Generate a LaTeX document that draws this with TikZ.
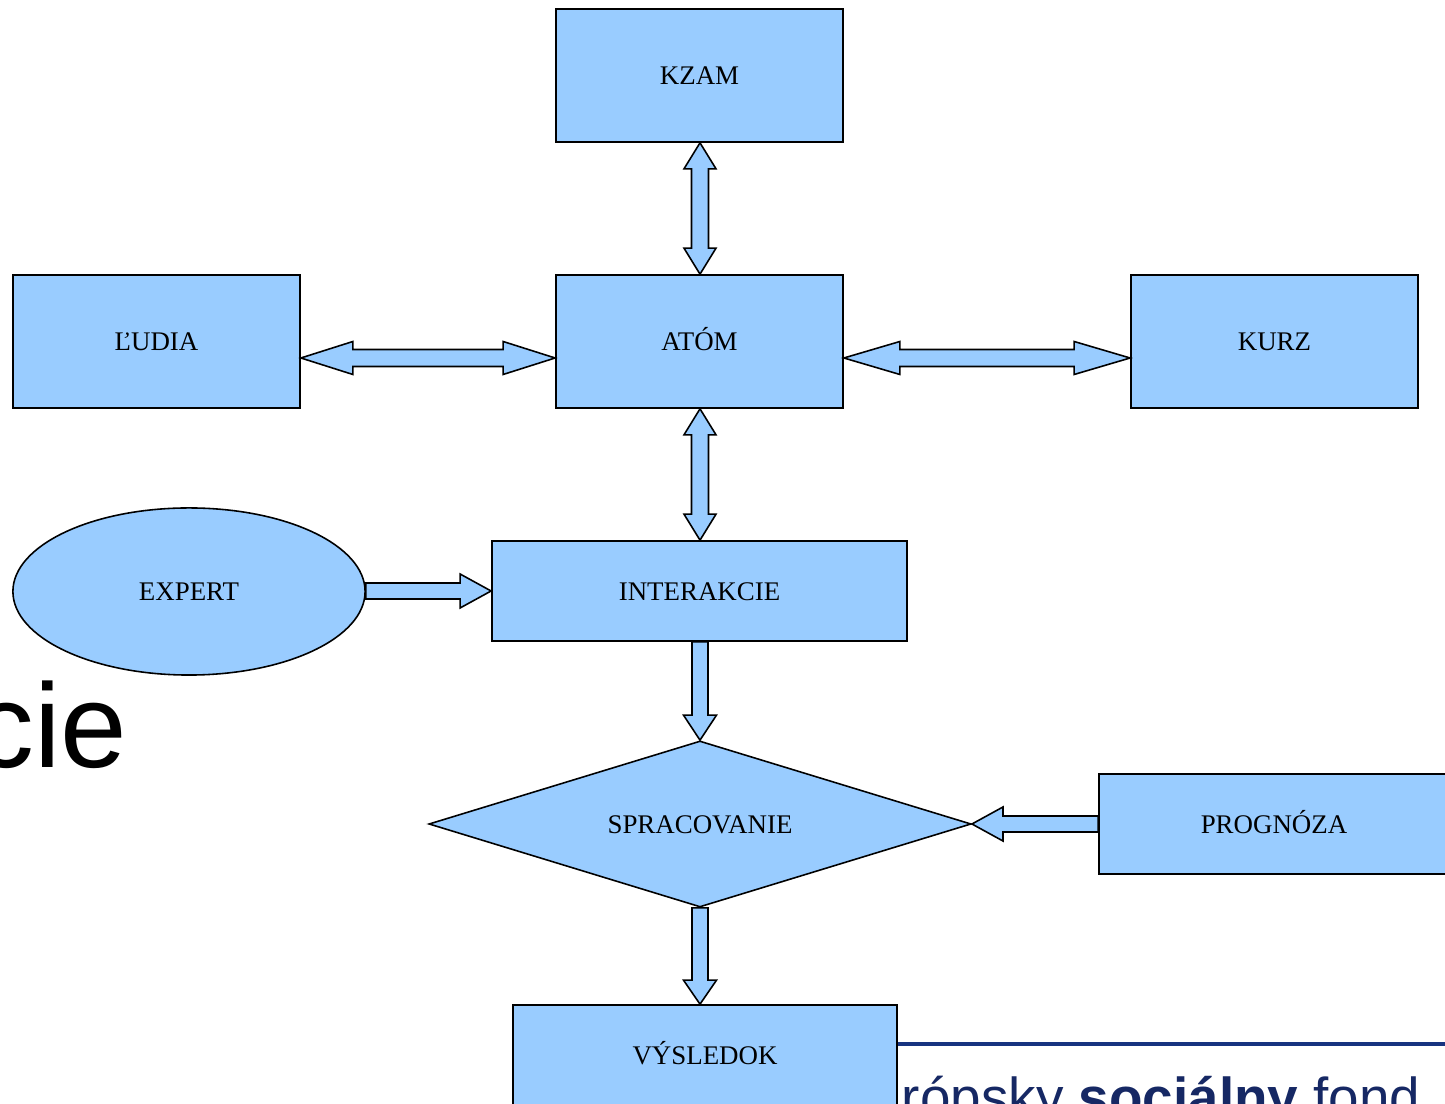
\documentclass[tikz,border=0pt]{standalone}
\usepackage{fontspec}
\setmainfont{Liberation Serif}
\newfontfamily\logofont{Liberation Sans}
\usetikzlibrary{calc,shapes.geometric}
\definecolor{boxblue}{HTML}{99CCFF}
\definecolor{logoline}{RGB}{24,52,128}
\definecolor{logotext}{RGB}{22,40,100}
\tikzset{
  boxstyle/.style={draw=black, line width=0.45pt, fill=boxblue, inner sep=0pt,
    font=\fontsize{7.65}{9}\selectfont, text height=0.185cm, text depth=0cm},
  rectbox/.style={boxstyle, rectangle},
  ellbox/.style={boxstyle, ellipse},
  diabox/.style={boxstyle, diamond, aspect=3.3},
  blockarrow/.style={draw=black, line width=0.45pt, fill=boxblue, line join=miter},
}
% double-headed horizontal block arrow: left tip, right tip, head length
\newcommand\HArrowTwo[3]{%
\draw[blockarrow] (#1) -- ($(#1)+(#3,-16.5)$) -- ($(#1)+(#3,-8.5)$) -- ($(#2)+(-#3,-8.5)$) -- ($(#2)+(-#3,-16.5)$) -- (#2) -- ($(#2)+(-#3,16.5)$) -- ($(#2)+(-#3,8.5)$) -- ($(#1)+(#3,8.5)$) -- ($(#1)+(#3,16.5)$) -- cycle;}
% double-headed vertical block arrow: top tip, bottom tip, head length
\newcommand\VArrowTwo[3]{%
\draw[blockarrow] (#1) -- ($(#1)+(16,#3)$) -- ($(#1)+(8.5,#3)$) -- ($(#2)+(8.5,-#3)$) -- ($(#2)+(16,-#3)$) -- (#2) -- ($(#2)+(-16,-#3)$) -- ($(#2)+(-8.5,-#3)$) -- ($(#1)+(-8.5,#3)$) -- ($(#1)+(-16,#3)$) -- cycle;}
% single block arrows: start, tip, head length
\newcommand\RArrowOne[3]{%
\draw[blockarrow] ($(#1)+(0,-8)$) -- ($(#2)+(-#3,-8)$) -- ($(#2)+(-#3,-17)$) -- (#2) -- ($(#2)+(-#3,17)$) -- ($(#2)+(-#3,8)$) -- ($(#1)+(0,8)$) -- cycle;}
\newcommand\LArrowOne[3]{%
\draw[blockarrow] ($(#1)+(0,-8)$) -- ($(#2)+(#3,-8)$) -- ($(#2)+(#3,-17)$) -- (#2) -- ($(#2)+(#3,17)$) -- ($(#2)+(#3,8)$) -- ($(#1)+(0,8)$) -- cycle;}
\newcommand\DArrowOne[3]{%
\draw[blockarrow] ($(#1)+(-8,0)$) -- ($(#2)+(-8,-#3)$) -- ($(#2)+(-16.5,-#3)$) -- (#2) -- ($(#2)+(16.5,-#3)$) -- ($(#2)+(8,-#3)$) -- ($(#1)+(8,0)$) -- cycle;}
\begin{document}
\begin{tikzpicture}[x=0.01cm, y=-0.01cm]
\useasboundingbox (0,0) rectangle (1445,1104);
\begin{scope}
\clip (0,0) rectangle (1445,1104);
% background slide remnants
\node[anchor=base east, inner sep=0pt, font=\logofont\fontsize{34}{40}\selectfont] (cie) at (128,768) {cie};
\draw[logoline, line width=1.3pt] (897,1044) -- (1445,1044);
\node[anchor=base east, inner sep=0pt, text=logotext, font=\logofont\fontsize{15.6}{18}\selectfont] (logo) at (1421,1117) {rópsky \textbf{sociálny} fond};
% nodes
\node[rectbox, minimum width=2.87cm, minimum height=1.33cm] (kzam) at (699.5,75.5) {KZAM};
\node[rectbox, minimum width=2.87cm, minimum height=1.33cm] (ludia) at (156.5,341.5) {ĽUDIA};
\node[rectbox, minimum width=2.87cm, minimum height=1.33cm] (atom) at (699.5,341.5) {ATÓM};
\node[rectbox, minimum width=2.87cm, minimum height=1.33cm] (kurz) at (1274.5,341.5) {KURZ};
\node[ellbox, minimum width=3.52cm, minimum height=1.67cm] (expert) at (189,591.5) {EXPERT};
\node[rectbox, minimum width=4.15cm, minimum height=1.0cm] (inter) at (699.5,591) {INTERAKCIE};
\node[diabox, minimum width=5.42cm, minimum height=1.66cm] (spr) at (700,824) {SPRACOVANIE};
\node[rectbox, minimum width=3.5cm, minimum height=1.0cm] (prog) at (1274,824) {PROGNÓZA};
\node[rectbox, minimum width=3.84cm, minimum height=1.0cm] (vys) at (705,1055) {VÝSLEDOK};
% connector end points
\coordinate (kzS) at ($(kzam.south)+(0.5,0)$);
\coordinate (atN) at ($(atom.north)+(0.5,0)$);
\coordinate (atS) at ($(atom.south)+(0.5,0)$);
\coordinate (inN) at ($(inter.north)+(0.5,0)$);
\coordinate (inS) at ($(inter.south)+(0.5,0)$);
\coordinate (luE) at ($(ludia.east)+(0,16.5)$);
\coordinate (atW) at ($(atom.west)+(0,16.5)$);
\coordinate (atE) at ($(atom.east)+(0,16.5)$);
\coordinate (kuW) at ($(kurz.west)+(0,16.5)$);
\coordinate (exE) at (expert.east |- inter.west);
\coordinate (vyN) at (spr.south |- vys.north);
% connectors
\VArrowTwo{kzS}{atN}{26}
\HArrowTwo{luE}{atW}{52}
\HArrowTwo{atE}{kuW}{56}
\VArrowTwo{atS}{inN}{26}
\RArrowOne{exE}{inter.west}{31}
\DArrowOne{inS}{spr.north}{25}
\LArrowOne{prog.west}{spr.east}{31}
\DArrowOne{spr.south}{vyN}{24}
\end{scope}
\end{tikzpicture}
\end{document}
